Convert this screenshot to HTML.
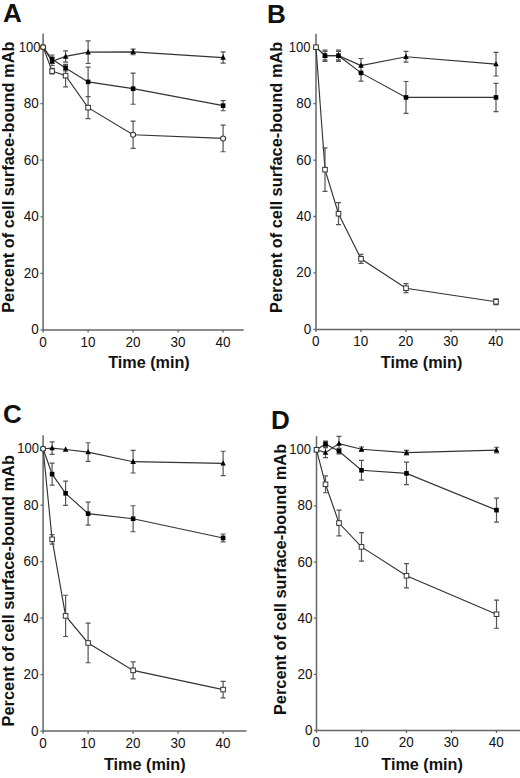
<!DOCTYPE html>
<html><head><meta charset="utf-8"><style>
html,body{margin:0;padding:0;background:#fff;}
body{width:520px;height:778px;overflow:hidden;}
svg{display:block;}
text{font-family:"Liberation Sans",sans-serif;fill:#111;}
.t{font-size:14.5px;}
.b{font-weight:bold;font-size:16.2px;}
.yb{font-weight:bold;font-size:16.4px;}
.L{font-weight:bold;font-size:26px;}
</style></head><body>
<svg width="520" height="778" viewBox="0 0 520 778">
<g id="pA">
<path d="M43.10 33.53V329.90H243.70" fill="none" stroke="#666666" stroke-width="1.5"/>
<path d="M40.50 329.90H43.10M40.50 273.34H43.10M40.50 216.78H43.10M40.50 160.22H43.10M40.50 103.66H43.10M40.50 47.10H43.10M43.10 329.90V332.50M88.10 329.90V332.50M133.10 329.90V332.50M178.10 329.90V332.50M223.10 329.90V332.50" fill="none" stroke="#666666" stroke-width="1.3"/>
<text class="t" transform="translate(38.80 334.40) scale(0.93 1)" text-anchor="end">0</text>
<text class="t" transform="translate(38.80 277.84) scale(0.93 1)" text-anchor="end">20</text>
<text class="t" transform="translate(38.80 221.28) scale(0.93 1)" text-anchor="end">40</text>
<text class="t" transform="translate(38.80 164.72) scale(0.93 1)" text-anchor="end">60</text>
<text class="t" transform="translate(38.80 108.16) scale(0.93 1)" text-anchor="end">80</text>
<text class="t" transform="translate(40.40 51.60) scale(0.9 1)" text-anchor="end">100</text>
<text class="t" transform="translate(42.90 346.90) scale(0.93 1)" text-anchor="middle">0</text>
<text class="t" transform="translate(87.90 346.90) scale(0.93 1)" text-anchor="middle">10</text>
<text class="t" transform="translate(132.90 346.90) scale(0.93 1)" text-anchor="middle">20</text>
<text class="t" transform="translate(177.90 346.90) scale(0.93 1)" text-anchor="middle">30</text>
<text class="t" transform="translate(222.90 346.90) scale(0.93 1)" text-anchor="middle">40</text>
<text class="b" x="149.00" y="367.70" text-anchor="middle">Time (min)</text>
<text class="yb" transform="translate(13.90 41.50) scale(0.97 1) rotate(-90)" text-anchor="end">Percent of cell surface-bound mAb</text>
<text class="L" x="3.00" y="22.30">A</text>
<path d="M43.10 47.10L52.10 71.14L65.60 75.66L88.10 107.62L133.10 134.77L223.10 138.44" fill="none" stroke="#333333" stroke-width="1.15"/>
<path d="M43.10 47.10L52.10 59.26L65.60 68.03L88.10 81.88L133.10 88.67L223.10 105.64" fill="none" stroke="#333333" stroke-width="1.15"/>
<path d="M43.10 47.10L52.10 61.24L65.60 56.43L88.10 52.19L133.10 51.91L223.10 57.56" fill="none" stroke="#333333" stroke-width="1.15"/>
<path d="M52.10 68.31V73.97M49.60 68.31H54.60M49.60 73.97H54.60M65.60 64.35V86.97M63.10 64.35H68.10M63.10 86.97H68.10M88.10 96.59V118.65M85.60 96.59H90.60M85.60 118.65H90.60M133.10 121.19V148.34M130.60 121.19H135.60M130.60 148.34H135.60M223.10 125.15V151.74M220.60 125.15H225.60M220.60 151.74H225.60M52.10 55.02V63.50M49.60 55.02H54.60M49.60 63.50H54.60M65.60 65.20V70.86M63.10 65.20H68.10M63.10 70.86H68.10M88.10 67.18V96.59M85.60 67.18H90.60M85.60 96.59H90.60M133.10 73.12V104.23M130.60 73.12H135.60M130.60 104.23H135.60M223.10 100.55V110.73M220.60 100.55H225.60M220.60 110.73H225.60M52.10 57.00V65.48M49.60 57.00H54.60M49.60 65.48H54.60M65.60 50.78V62.09M63.10 50.78H68.10M63.10 62.09H68.10M88.10 40.88V63.50M85.60 40.88H90.60M85.60 63.50H90.60M133.10 49.08V54.74M130.60 49.08H135.60M130.60 54.74H135.60M223.10 51.91V63.22M220.60 51.91H225.60M220.60 63.22H225.60" fill="none" stroke="#555555" stroke-width="1.2"/>
<path d="M43.10 43.90L45.85 49.30L40.35 49.30Z" fill="#000"/>
<path d="M52.10 58.04L54.85 63.44L49.35 63.44Z" fill="#000"/>
<path d="M65.60 53.23L68.35 58.63L62.85 58.63Z" fill="#000"/>
<path d="M88.10 48.99L90.85 54.39L85.35 54.39Z" fill="#000"/>
<path d="M133.10 48.71L135.85 54.11L130.35 54.11Z" fill="#000"/>
<path d="M223.10 54.36L225.85 59.76L220.35 59.76Z" fill="#000"/>
<rect x="40.80" y="44.80" width="4.6" height="4.6" fill="#000"/>
<rect x="49.80" y="56.96" width="4.6" height="4.6" fill="#000"/>
<rect x="63.30" y="65.73" width="4.6" height="4.6" fill="#000"/>
<rect x="85.80" y="79.58" width="4.6" height="4.6" fill="#000"/>
<rect x="130.80" y="86.37" width="4.6" height="4.6" fill="#000"/>
<rect x="220.80" y="103.34" width="4.6" height="4.6" fill="#000"/>
<circle cx="43.10" cy="47.10" r="2.5" fill="#fff" stroke="#333333" stroke-width="1.1"/>
<rect x="49.80" y="68.84" width="4.6" height="4.6" fill="#fff" stroke="#333333" stroke-width="1"/>
<rect x="63.30" y="73.36" width="4.6" height="4.6" fill="#fff" stroke="#333333" stroke-width="1"/>
<rect x="85.80" y="105.32" width="4.6" height="4.6" fill="#fff" stroke="#333333" stroke-width="1"/>
<circle cx="133.10" cy="134.77" r="2.5" fill="#fff" stroke="#333333" stroke-width="1.1"/>
<circle cx="223.10" cy="138.44" r="2.5" fill="#fff" stroke="#333333" stroke-width="1.1"/>
</g>
<g id="pB">
<path d="M316.00 33.65V329.40H521.00" fill="none" stroke="#666666" stroke-width="1.5"/>
<path d="M313.40 329.40H316.00M313.40 272.96H316.00M313.40 216.52H316.00M313.40 160.08H316.00M313.40 103.64H316.00M313.40 47.20H316.00M316.00 329.40V332.00M361.00 329.40V332.00M406.00 329.40V332.00M451.00 329.40V332.00M496.00 329.40V332.00" fill="none" stroke="#666666" stroke-width="1.3"/>
<text class="t" transform="translate(311.20 333.90) scale(0.93 1)" text-anchor="end">0</text>
<text class="t" transform="translate(311.20 277.46) scale(0.93 1)" text-anchor="end">20</text>
<text class="t" transform="translate(311.20 221.02) scale(0.93 1)" text-anchor="end">40</text>
<text class="t" transform="translate(311.20 164.58) scale(0.93 1)" text-anchor="end">60</text>
<text class="t" transform="translate(311.20 108.14) scale(0.93 1)" text-anchor="end">80</text>
<text class="t" transform="translate(310.60 51.70) scale(0.9 1)" text-anchor="end">100</text>
<text class="t" transform="translate(315.80 346.40) scale(0.93 1)" text-anchor="middle">0</text>
<text class="t" transform="translate(360.80 346.40) scale(0.93 1)" text-anchor="middle">10</text>
<text class="t" transform="translate(405.80 346.40) scale(0.93 1)" text-anchor="middle">20</text>
<text class="t" transform="translate(450.80 346.40) scale(0.93 1)" text-anchor="middle">30</text>
<text class="t" transform="translate(495.80 346.40) scale(0.93 1)" text-anchor="middle">40</text>
<text class="b" x="421.60" y="367.70" text-anchor="middle">Time (min)</text>
<text class="yb" transform="translate(282.00 41.70) scale(0.97 1) rotate(-90)" text-anchor="end">Percent of cell surface-bound mAb</text>
<text class="L" x="267.00" y="22.50">B</text>
<path d="M316.00 47.20L325.00 169.67L338.50 213.70L361.00 258.85L406.00 288.20L496.00 301.74" fill="none" stroke="#333333" stroke-width="1.15"/>
<path d="M316.00 47.20L325.00 55.67L338.50 55.67L361.00 72.88L406.00 97.43L496.00 97.43" fill="none" stroke="#333333" stroke-width="1.15"/>
<path d="M316.00 47.20L325.00 55.67L338.50 55.67L361.00 65.54L406.00 56.79L496.00 64.13" fill="none" stroke="#333333" stroke-width="1.15"/>
<path d="M325.00 147.95V191.40M322.50 147.95H327.50M322.50 191.40H327.50M338.50 202.69V224.70M336.00 202.69H341.00M336.00 224.70H341.00M361.00 254.33V263.37M358.50 254.33H363.50M358.50 263.37H363.50M406.00 283.68V292.71M403.50 283.68H408.50M403.50 292.71H408.50M496.00 298.92V304.57M493.50 298.92H498.50M493.50 304.57H498.50M325.00 50.02V61.31M322.50 50.02H327.50M322.50 61.31H327.50M338.50 50.02V61.31M336.00 50.02H341.00M336.00 61.31H341.00M361.00 64.70V81.06M358.50 64.70H363.50M358.50 81.06H363.50M406.00 81.49V113.38M403.50 81.49H408.50M403.50 113.38H408.50M496.00 83.32V111.54M493.50 83.32H498.50M493.50 111.54H498.50M325.00 51.43V59.90M322.50 51.43H327.50M322.50 59.90H327.50M338.50 51.43V59.90M336.00 51.43H341.00M336.00 59.90H341.00M361.00 58.49V72.60M358.50 58.49H363.50M358.50 72.60H363.50M406.00 51.43V62.16M403.50 51.43H408.50M403.50 62.16H408.50M496.00 52.28V75.98M493.50 52.28H498.50M493.50 75.98H498.50" fill="none" stroke="#555555" stroke-width="1.2"/>
<path d="M316.00 44.00L318.75 49.40L313.25 49.40Z" fill="#000"/>
<path d="M325.00 52.47L327.75 57.87L322.25 57.87Z" fill="#000"/>
<path d="M338.50 52.47L341.25 57.87L335.75 57.87Z" fill="#000"/>
<path d="M361.00 62.34L363.75 67.74L358.25 67.74Z" fill="#000"/>
<path d="M406.00 53.59L408.75 58.99L403.25 58.99Z" fill="#000"/>
<path d="M496.00 60.93L498.75 66.33L493.25 66.33Z" fill="#000"/>
<rect x="313.70" y="44.90" width="4.6" height="4.6" fill="#000"/>
<rect x="322.70" y="53.37" width="4.6" height="4.6" fill="#000"/>
<rect x="336.20" y="53.37" width="4.6" height="4.6" fill="#000"/>
<rect x="358.70" y="70.58" width="4.6" height="4.6" fill="#000"/>
<rect x="403.70" y="95.13" width="4.6" height="4.6" fill="#000"/>
<rect x="493.70" y="95.13" width="4.6" height="4.6" fill="#000"/>
<rect x="313.70" y="44.90" width="4.6" height="4.6" fill="#fff" stroke="#333333" stroke-width="1"/>
<rect x="322.70" y="167.37" width="4.6" height="4.6" fill="#fff" stroke="#333333" stroke-width="1"/>
<rect x="336.20" y="211.40" width="4.6" height="4.6" fill="#fff" stroke="#333333" stroke-width="1"/>
<rect x="358.70" y="256.55" width="4.6" height="4.6" fill="#fff" stroke="#333333" stroke-width="1"/>
<rect x="403.70" y="285.90" width="4.6" height="4.6" fill="#fff" stroke="#333333" stroke-width="1"/>
<rect x="493.70" y="299.44" width="4.6" height="4.6" fill="#fff" stroke="#333333" stroke-width="1"/>
</g>
<g id="pC">
<path d="M43.10 435.14V731.10H246.50" fill="none" stroke="#666666" stroke-width="1.5"/>
<path d="M40.50 731.10H43.10M40.50 674.62H43.10M40.50 618.14H43.10M40.50 561.66H43.10M40.50 505.18H43.10M40.50 448.70H43.10M43.10 731.10V733.70M88.10 731.10V733.70M133.10 731.10V733.70M178.10 731.10V733.70M223.10 731.10V733.70" fill="none" stroke="#666666" stroke-width="1.3"/>
<text class="t" transform="translate(38.50 735.60) scale(0.93 1)" text-anchor="end">0</text>
<text class="t" transform="translate(38.50 679.12) scale(0.93 1)" text-anchor="end">20</text>
<text class="t" transform="translate(38.50 622.64) scale(0.93 1)" text-anchor="end">40</text>
<text class="t" transform="translate(38.50 566.16) scale(0.93 1)" text-anchor="end">60</text>
<text class="t" transform="translate(38.50 509.68) scale(0.93 1)" text-anchor="end">80</text>
<text class="t" transform="translate(39.10 453.20) scale(0.9 1)" text-anchor="end">100</text>
<text class="t" transform="translate(42.90 748.10) scale(0.93 1)" text-anchor="middle">0</text>
<text class="t" transform="translate(87.90 748.10) scale(0.93 1)" text-anchor="middle">10</text>
<text class="t" transform="translate(132.90 748.10) scale(0.93 1)" text-anchor="middle">20</text>
<text class="t" transform="translate(177.90 748.10) scale(0.93 1)" text-anchor="middle">30</text>
<text class="t" transform="translate(222.90 748.10) scale(0.93 1)" text-anchor="middle">40</text>
<text class="b" x="144.80" y="770.40" text-anchor="middle">Time (min)</text>
<text class="yb" transform="translate(13.90 455.10) scale(0.97 1) rotate(-90)" text-anchor="end">Percent of cell surface-bound mAb</text>
<text class="L" x="3.00" y="422.50">C</text>
<path d="M43.10 448.70L52.10 539.35L65.60 615.88L88.10 642.99L133.10 670.38L223.10 689.59" fill="none" stroke="#333333" stroke-width="1.15"/>
<path d="M43.10 448.70L52.10 474.12L65.60 493.32L88.10 513.65L133.10 518.74L223.10 537.94" fill="none" stroke="#333333" stroke-width="1.15"/>
<path d="M43.10 448.70L52.10 448.14L65.60 449.55L88.10 452.09L133.10 461.69L223.10 463.38" fill="none" stroke="#333333" stroke-width="1.15"/>
<path d="M52.10 534.55V544.15M49.60 534.55H54.60M49.60 544.15H54.60M65.60 595.27V636.50M63.10 595.27H68.10M63.10 636.50H68.10M88.10 623.22V662.76M85.60 623.22H90.60M85.60 662.76H90.60M133.10 661.91V678.86M130.60 661.91H135.60M130.60 678.86H135.60M223.10 681.40V697.78M220.60 681.40H225.60M220.60 697.78H225.60M52.10 463.10V485.13M49.60 463.10H54.60M49.60 485.13H54.60M65.60 481.18V505.46M63.10 481.18H68.10M63.10 505.46H68.10M88.10 502.21V525.09M85.60 502.21H90.60M85.60 525.09H90.60M133.10 505.74V531.73M130.60 505.74H135.60M130.60 531.73H135.60M223.10 533.98V541.89M220.60 533.98H225.60M220.60 541.89H225.60M52.10 441.92V454.35M49.60 441.92H54.60M49.60 454.35H54.60M88.10 442.77V461.41M85.60 442.77H90.60M85.60 461.41H90.60M133.10 450.39V472.99M130.60 450.39H135.60M130.60 472.99H135.60M223.10 451.24V475.53M220.60 451.24H225.60M220.60 475.53H225.60" fill="none" stroke="#555555" stroke-width="1.2"/>
<path d="M43.10 445.50L45.85 450.90L40.35 450.90Z" fill="#000"/>
<path d="M52.10 444.94L54.85 450.34L49.35 450.34Z" fill="#000"/>
<path d="M65.60 446.35L68.35 451.75L62.85 451.75Z" fill="#000"/>
<path d="M88.10 448.89L90.85 454.29L85.35 454.29Z" fill="#000"/>
<path d="M133.10 458.49L135.85 463.89L130.35 463.89Z" fill="#000"/>
<path d="M223.10 460.18L225.85 465.58L220.35 465.58Z" fill="#000"/>
<rect x="40.80" y="446.40" width="4.6" height="4.6" fill="#000"/>
<rect x="49.80" y="471.82" width="4.6" height="4.6" fill="#000"/>
<rect x="63.30" y="491.02" width="4.6" height="4.6" fill="#000"/>
<rect x="85.80" y="511.35" width="4.6" height="4.6" fill="#000"/>
<rect x="130.80" y="516.44" width="4.6" height="4.6" fill="#000"/>
<rect x="220.80" y="535.64" width="4.6" height="4.6" fill="#000"/>
<circle cx="43.10" cy="448.70" r="2.5" fill="#fff" stroke="#333333" stroke-width="1.1"/>
<rect x="49.80" y="537.05" width="4.6" height="4.6" fill="#fff" stroke="#333333" stroke-width="1"/>
<rect x="63.30" y="613.58" width="4.6" height="4.6" fill="#fff" stroke="#333333" stroke-width="1"/>
<rect x="85.80" y="640.69" width="4.6" height="4.6" fill="#fff" stroke="#333333" stroke-width="1"/>
<rect x="130.80" y="668.08" width="4.6" height="4.6" fill="#fff" stroke="#333333" stroke-width="1"/>
<rect x="220.80" y="687.29" width="4.6" height="4.6" fill="#fff" stroke="#333333" stroke-width="1"/>
</g>
<g id="pD">
<path d="M316.50 436.33V730.40H521.00" fill="none" stroke="#666666" stroke-width="1.5"/>
<path d="M313.90 730.40H316.50M313.90 674.28H316.50M313.90 618.16H316.50M313.90 562.04H316.50M313.90 505.92H316.50M313.90 449.80H316.50M316.50 730.40V733.00M361.50 730.40V733.00M406.50 730.40V733.00M451.50 730.40V733.00M496.50 730.40V733.00" fill="none" stroke="#666666" stroke-width="1.3"/>
<text class="t" transform="translate(312.50 734.90) scale(0.93 1)" text-anchor="end">0</text>
<text class="t" transform="translate(312.50 678.78) scale(0.93 1)" text-anchor="end">20</text>
<text class="t" transform="translate(312.50 622.66) scale(0.93 1)" text-anchor="end">40</text>
<text class="t" transform="translate(312.50 566.54) scale(0.93 1)" text-anchor="end">60</text>
<text class="t" transform="translate(312.50 510.42) scale(0.93 1)" text-anchor="end">80</text>
<text class="t" transform="translate(310.90 454.30) scale(0.9 1)" text-anchor="end">100</text>
<text class="t" transform="translate(316.30 747.40) scale(0.93 1)" text-anchor="middle">0</text>
<text class="t" transform="translate(361.30 747.40) scale(0.93 1)" text-anchor="middle">10</text>
<text class="t" transform="translate(406.30 747.40) scale(0.93 1)" text-anchor="middle">20</text>
<text class="t" transform="translate(451.30 747.40) scale(0.93 1)" text-anchor="middle">30</text>
<text class="t" transform="translate(496.30 747.40) scale(0.93 1)" text-anchor="middle">40</text>
<text class="b" x="422.10" y="770.40" text-anchor="middle">Time (min)</text>
<text class="yb" transform="translate(285.60 443.80) scale(0.97 1) rotate(-90)" text-anchor="end">Percent of cell surface-bound mAb</text>
<text class="L" x="271.00" y="429.00">D</text>
<path d="M316.50 449.80L325.50 484.31L339.00 523.04L361.50 546.89L406.50 575.79L496.50 614.23" fill="none" stroke="#333333" stroke-width="1.15"/>
<path d="M316.50 449.80L325.50 443.91L339.00 451.20L361.50 470.28L406.50 473.37L496.50 510.13" fill="none" stroke="#333333" stroke-width="1.15"/>
<path d="M316.50 449.80L325.50 452.61L339.00 443.63L361.50 449.24L406.50 452.61L496.50 450.08" fill="none" stroke="#333333" stroke-width="1.15"/>
<path d="M325.50 475.90V492.73M323.00 475.90H328.00M323.00 492.73H328.00M339.00 510.13V535.94M336.50 510.13H341.50M336.50 535.94H341.50M361.50 532.58V561.20M359.00 532.58H364.00M359.00 561.20H364.00M406.50 563.72V587.86M404.00 563.72H409.00M404.00 587.86H409.00M496.50 600.20V628.26M494.00 600.20H499.00M494.00 628.26H499.00M325.50 441.10V446.71M323.00 441.10H328.00M323.00 446.71H328.00M339.00 448.40V454.01M336.50 448.40H341.50M336.50 454.01H341.50M361.50 460.46V480.10M359.00 460.46H364.00M359.00 480.10H364.00M406.50 462.15V484.59M404.00 462.15H409.00M404.00 484.59H409.00M496.50 498.06V522.19M494.00 498.06H499.00M494.00 522.19H499.00M325.50 447.56V457.66M323.00 447.56H328.00M323.00 457.66H328.00M339.00 436.33V450.92M336.50 436.33H341.50M336.50 450.92H341.50M361.50 446.99V451.48M359.00 446.99H364.00M359.00 451.48H364.00M406.50 450.36V454.85M404.00 450.36H409.00M404.00 454.85H409.00M496.50 447.27V452.89M494.00 447.27H499.00M494.00 452.89H499.00" fill="none" stroke="#555555" stroke-width="1.2"/>
<path d="M316.50 446.60L319.25 452.00L313.75 452.00Z" fill="#000"/>
<path d="M325.50 449.41L328.25 454.81L322.75 454.81Z" fill="#000"/>
<path d="M339.00 440.43L341.75 445.83L336.25 445.83Z" fill="#000"/>
<path d="M361.50 446.04L364.25 451.44L358.75 451.44Z" fill="#000"/>
<path d="M406.50 449.41L409.25 454.81L403.75 454.81Z" fill="#000"/>
<path d="M496.50 446.88L499.25 452.28L493.75 452.28Z" fill="#000"/>
<rect x="314.20" y="447.50" width="4.6" height="4.6" fill="#000"/>
<rect x="323.20" y="441.61" width="4.6" height="4.6" fill="#000"/>
<rect x="336.70" y="448.90" width="4.6" height="4.6" fill="#000"/>
<rect x="359.20" y="467.98" width="4.6" height="4.6" fill="#000"/>
<rect x="404.20" y="471.07" width="4.6" height="4.6" fill="#000"/>
<rect x="494.20" y="507.83" width="4.6" height="4.6" fill="#000"/>
<rect x="314.20" y="447.50" width="4.6" height="4.6" fill="#fff" stroke="#333333" stroke-width="1"/>
<rect x="323.20" y="482.01" width="4.6" height="4.6" fill="#fff" stroke="#333333" stroke-width="1"/>
<rect x="336.70" y="520.74" width="4.6" height="4.6" fill="#fff" stroke="#333333" stroke-width="1"/>
<rect x="359.20" y="544.59" width="4.6" height="4.6" fill="#fff" stroke="#333333" stroke-width="1"/>
<rect x="404.20" y="573.49" width="4.6" height="4.6" fill="#fff" stroke="#333333" stroke-width="1"/>
<rect x="494.20" y="611.93" width="4.6" height="4.6" fill="#fff" stroke="#333333" stroke-width="1"/>
</g>
</svg>
</body></html>
